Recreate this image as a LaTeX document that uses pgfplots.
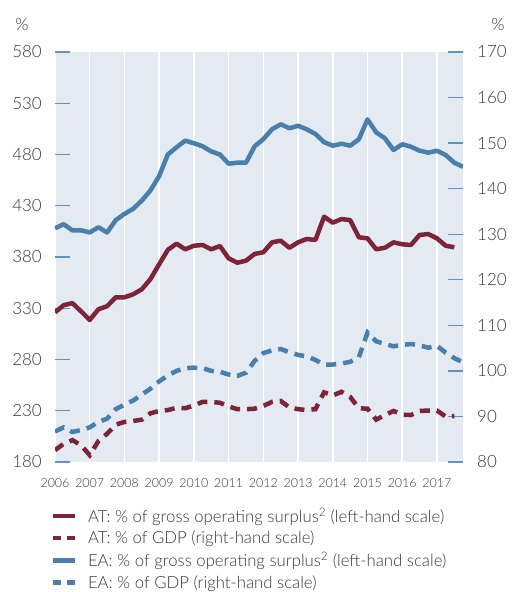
\documentclass[border=0pt]{standalone}
\usepackage{fontspec}
\setmainfont{Lato}[UprightFont={* Light}]
\usepackage{pgfplots}
\pgfplotsset{compat=1.18}
\usepackage{pgfplotstable}
\definecolor{atred}{RGB}{125,36,56}
\definecolor{eablue}{RGB}{74,126,171}
\definecolor{bgblue}{RGB}{228,234,242}
\definecolor{tickblue}{RGB}{98,146,190}
\definecolor{txt}{RGB}{55,55,55}

\pgfplotstableread{
x y
2006.00 408
2006.25 412
2006.50 406
2006.75 406
2007.00 404
2007.25 409
2007.50 404
2007.75 416
2008.00 422
2008.25 427
2008.50 435
2008.75 445
2009.00 459
2009.25 480
2009.50 487
2009.75 493.5
2010.00 491
2010.25 488
2010.50 483
2010.75 480
2011.00 471
2011.25 472
2011.50 472
2011.75 488
2012.00 495
2012.25 504.6
2012.50 509.5
2012.75 505.6
2013.00 508
2013.25 504.6
2013.50 500
2013.75 492
2014.00 488.6
2014.25 490.5
2014.50 488.6
2014.75 494.8
2015.00 514.3
2015.25 501.6
2015.50 495.8
2015.75 484.4
2016.00 490
2016.25 487.6
2016.50 483.7
2016.75 481.8
2017.00 483.7
2017.25 479.5
2017.50 472
2017.75 468
}\eagos

\pgfplotstableread{
x y
2006.00 326
2006.25 333
2006.50 335
2006.75 327
2007.00 318.5
2007.25 329
2007.50 332
2007.75 340.7
2008.00 340.7
2008.25 343.6
2008.50 348.5
2008.75 358.5
2009.00 373
2009.25 387
2009.50 393
2009.75 387.5
2010.00 391
2010.25 391.7
2010.50 387.5
2010.75 390.7
2011.00 378.7
2011.25 374.4
2011.50 376.4
2011.75 383
2012.00 384.6
2012.25 394.3
2012.50 395.9
2012.75 389
2013.00 394.3
2013.25 397.6
2013.50 396.6
2013.75 419.3
2014.00 413.5
2014.25 417
2014.50 416
2014.75 399.2
2015.00 398.2
2015.25 387.5
2015.50 389
2015.75 394.3
2016.00 392.4
2016.25 391.7
2016.50 401.5
2016.75 402.4
2017.00 398.2
2017.25 391
2017.50 389.5
}\atgos

\pgfplotstableread{
x y
2006.00 86.7
2006.25 87.6
2006.50 86.6
2006.75 87.0
2007.00 87.6
2007.25 88.8
2007.50 89.5
2007.75 91.6
2008.00 92.6
2008.25 93.5
2008.50 94.8
2008.75 96.1
2009.00 97.7
2009.25 99.0
2009.50 100.0
2009.75 100.6
2010.00 100.7
2010.25 100.6
2010.50 100.0
2010.75 99.8
2011.00 99.2
2011.25 98.9
2011.50 99.6
2011.75 102.2
2012.00 103.9
2012.25 104.5
2012.50 104.8
2012.75 104.1
2013.00 103.5
2013.25 103.2
2013.50 102.4
2013.75 101.4
2014.00 101.4
2014.25 101.6
2014.50 102.0
2014.75 103.0
2015.00 108.4
2015.25 106.5
2015.50 105.9
2015.75 105.4
2016.00 105.7
2016.25 105.9
2016.50 105.6
2016.75 105.1
2017.00 105.5
2017.25 104.0
2017.50 102.8
2017.75 101.9
}\eagdp

\pgfplotstableread{
x y
2006.00 82.6
2006.25 84.0
2006.50 84.8
2006.75 83.7
2007.00 81.5
2007.25 84.6
2007.50 86.2
2007.75 88.2
2008.00 88.8
2008.25 89.0
2008.50 89.3
2008.75 90.7
2009.00 91.2
2009.25 91.4
2009.50 91.9
2009.75 91.8
2010.00 92.4
2010.25 93.2
2010.50 93.2
2010.75 93.0
2011.00 92.2
2011.25 91.6
2011.50 91.6
2011.75 91.7
2012.00 92.3
2012.25 93.2
2012.50 93.4
2012.75 92.0
2013.00 91.6
2013.25 91.4
2013.50 91.6
2013.75 95.3
2014.00 94.6
2014.25 95.4
2014.50 94.3
2014.75 91.8
2015.00 91.7
2015.25 89.3
2015.50 90.3
2015.75 91.2
2016.00 90.4
2016.25 90.3
2016.50 91.2
2016.75 91.3
2017.00 91.3
2017.25 90.0
2017.50 90.1
}\atgdp

\pgfplotsset{
  common/.style={
    scale only axis, width=408bp, height=410bp,
    xmin=2006, xmax=2017.75,
    /pgf/number format/assume math mode=true,
    tick align=inside, major tick length=15bp,
    every tick label/.append style={text=txt},
  },
  solidline/.style={line width=4.5bp, line join=round},
  dashline/.style={line width=4.5bp, dash pattern=on 10bp off 7bp},
}

\begin{document}
\begin{tikzpicture}
\begin{axis}[common, name=main,
  ymin=180, ymax=580, ytick={180,230,...,580},
  xtick={2006,...,2017},
  xticklabels={2006,2007,2008,2009,2010,2011,2012,2013,2014,2015,2016,2017},
  x tick label style={font=\fontsize{12.5}{14}\selectfont, inner sep=0pt, anchor=north, yshift=-16bp},
  y tick label style={font=\fontsize{17}{18}\selectfont, inner sep=0pt, anchor=east, xshift=-13bp},
  axis background/.style={fill=bgblue},
  axis line style={draw=none},
  xmajorgrids, grid style={white, line width=1.5bp},
  x tick style={draw=none},
  y tick style={tickblue, line width=1.3bp},
  ytick pos=left,
  ylabel={\%}, ylabel style={rotate=-90, at={(axis description cs:-0.081,1.068)}, anchor=center, font=\fontsize{17}{18}\selectfont, text=txt},
]
\addplot[solidline, color=eablue] table[x=x,y=y] {\eagos};
\addplot[solidline, color=atred] table[x=x,y=y] {\atgos};
\end{axis}
\begin{axis}[common,
  ymin=80, ymax=170, ytick={80,90,...,170},
  hide x axis,
  axis y line*=right,
  y axis line style={draw=none},
  y tick style={tickblue, line width=1.3bp},
  y tick label style={font=\fontsize{17}{18}\selectfont, inner sep=0pt, anchor=west, xshift=14bp},
  ylabel={\%}, ylabel style={rotate=-90, at={(axis description cs:1.086,1.068)}, anchor=center, font=\fontsize{17}{18}\selectfont, text=txt},
  legend style={at={(axis description cs:-0.012,-0.106)}, anchor=north west, draw=none, fill=none,
    font=\fontsize{16.8}{18}\selectfont, text=txt, row sep=2.6bp, inner sep=0pt,
    nodes={inner sep=2.2bp}},
  legend cell align=left,
  legend image code/.code={\draw[#1] (0bp,0bp) -- (22bp,0bp); \path (31bp,0bp);},
]
\addplot[dashline, color=eablue, forget plot] table[x=x,y=y] {\eagdp};
\addplot[dashline, color=atred, forget plot] table[x=x,y=y] {\atgdp};
\addlegendimage{line width=4.5bp, color=atred}
\addlegendentry{AT: \% of gross operating surplus\textsuperscript{2} (left-hand scale)}
\addlegendimage{line width=4.5bp, color=atred, dash pattern=on 8bp off 6bp}
\addlegendentry{AT: \% of GDP (right-hand scale)}
\addlegendimage{line width=4.5bp, color=eablue}
\addlegendentry{EA: \% of gross operating surplus\textsuperscript{2} (left-hand scale)}
\addlegendimage{line width=4.5bp, color=eablue, dash pattern=on 8bp off 6bp}
\addlegendentry{EA: \% of GDP (right-hand scale)}
\end{axis}
\pgfresetboundingbox
\path[use as bounding box] ([shift={(-55bp,-130bp)}]main.south west) rectangle ([shift={(460bp,462bp)}]main.south west);
\end{tikzpicture}
\end{document}
